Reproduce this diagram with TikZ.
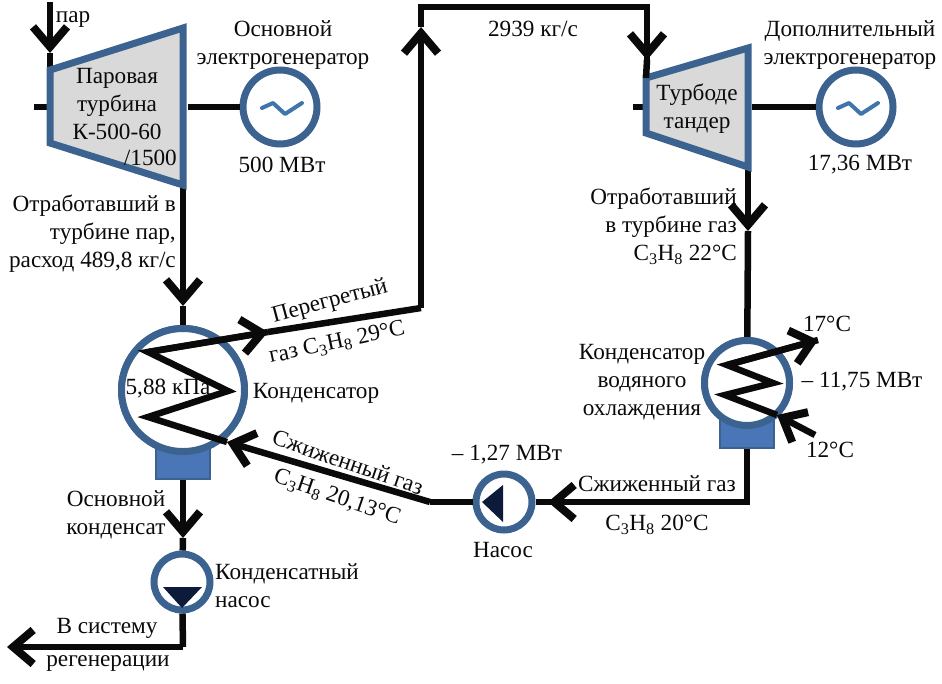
\documentclass[tikz,border=0pt]{standalone}
\usepackage{fontspec}
\setmainfont{Liberation Serif}
\usetikzlibrary{arrows.meta,calc}
\definecolor{PlantBlue}{HTML}{3C6390}
\definecolor{SumpBlue}{HTML}{4A76B8}
\definecolor{WaveBlue}{HTML}{3F75A8}
\definecolor{BodyGrey}{HTML}{D9D9D9}
\definecolor{PlantInk}{HTML}{0A0A0A}
\definecolor{PumpNavy}{HTML}{0D1B3A}
\newcommand{\propane}{C\textsubscript{3}H\textsubscript{8}}
\tikzset{
  pipe/.style={draw=PlantInk,line width=6.5pt,line join=miter},
  flow/.style={pipe,-{Straight Barb[length=20pt,width=34pt,line width=8pt]}},
  turb/.style={draw=PlantBlue,fill=BodyGrey,line width=7pt,line join=miter},
  gen/.style={circle,draw=PlantBlue,fill=white,line width=7pt,inner sep=0pt,minimum size=74pt},
  pump/.style={circle,draw=PlantBlue,fill=white,line width=7pt,inner sep=0pt,minimum size=56pt},
  sump/.style={draw=PlantBlue,fill=SumpBlue,line width=2pt,inner sep=0pt},
  genwave/.style={draw=WaveBlue,line width=4pt,line join=round,line cap=round},
  lbl/.style={text=PlantInk,inner sep=0pt,align=center,font=\fontsize{23.2}{28}\selectfont}
}
\begin{document}
\begin{tikzpicture}[x=1pt,y=-1pt]
  \useasboundingbox (0,0) rectangle (942,683);

  \coordinate (steamin) at (50,2);
  \coordinate (steamhead) at (50,53);
  \coordinate (turbAnw) at (50,70);
  \coordinate (turbAne) at (183,28);
  \coordinate (turbAse) at (183,185);
  \coordinate (turbAsw) at (50,143);
  \coordinate (shaftA) at (34,107);
  \coordinate (shaftAw) at (48,107);
  \coordinate (shaftAe) at (188,107);
  \coordinate (exhaustA) at (183,306);
  \coordinate (turbBnw) at (646,78);
  \coordinate (turbBne) at (748,48);
  \coordinate (turbBse) at (748,167);
  \coordinate (turbBsw) at (646,133);
  \coordinate (shaftB) at (633,107);
  \coordinate (shaftBw) at (645,107);
  \coordinate (shaftBe) at (752,107);
  \coordinate (exhaustB) at (748,231);

  \node[gen] (genA) at (280,107) {};
  \node[gen] (genB) at (856,107) {};
  \node[gen,minimum size=123pt] (condA) at (183,390) {};
  \node[gen,minimum size=85pt] (condB) at (747,383) {};
  \node[pump] (pumpA) at (182,582) {};
  \node[pump] (pumpB) at (504,502) {};

  \draw[flow] (steamin) -- (steamhead);
  \draw[pipe] (steamhead) -- (turbAnw);
  \draw[pipe] (shaftA) -- (shaftAw);
  \draw[pipe] (shaftAe) -- (genA);
  \draw[flow] (turbAse) -- (exhaustA);
  \draw[pipe] (exhaustA) -- (condA);
  \draw[pipe] (shaftB) -- (shaftBw);
  \draw[pipe] (shaftBe) -- (genB);
  \draw[flow] (turbBse) -- (exhaustB);
  \draw[pipe] (exhaustB) -- (condB);

  \node[sump,minimum width=54pt,minimum height=36pt] (sumpA) at (183,461) {};
  \node[sump,minimum width=54pt,minimum height=32pt] (sumpB) at (747,432) {};
  \node[gen,minimum size=123pt] at (condA) {};
  \node[gen,minimum size=85pt] at (condB) {};

  \filldraw[turb] (turbAnw) -- (turbAne) -- (turbAse) -- (turbAsw) -- cycle;
  \filldraw[turb] (turbBnw) -- (turbBne) -- (turbBse) -- (turbBsw) -- cycle;

  \foreach \g in {genA,genB}
    \draw[genwave] ($(\g)+(-18,1)$) -- ++(11,-5) -- ++(12,11) -- ++(17,-11);

  \coordinate (bendliq) at (430,502);
  \coordinate (headliq) at (227,442);
  \coordinate (coilA1) at (148,417);
  \coordinate (coilA2) at (228,391);
  \coordinate (coilA3) at (148,352);
  \coordinate (headgas) at (268,332);
  \coordinate (bendgas) at (421,308);
  \coordinate (headup) at (421,27);
  \coordinate (topleft) at (421,7);
  \coordinate (topright) at (647,7);
  \coordinate (headdown) at (647,60);
  \coordinate (sumpdrop) at (183,538);
  \coordinate (cornerA) at (183,647);
  \coordinate (outlet) at (7,647);
  \coordinate (cornerB) at (747,502);
  \coordinate (headB) at (548,502);
  \coordinate (coolin) at (815,435);
  \coordinate (coolhead) at (777,415);
  \coordinate (coilB1) at (725,395);
  \coordinate (coilB2) at (773,383);
  \coordinate (coilB3) at (727,365);
  \coordinate (coolout) at (818,340);

  \draw[flow] (bendliq) -- (headliq);
  \draw[pipe] (headliq) -- (coilA1) -- (coilA2) -- (coilA3) -- (headgas);
  \draw[flow] (coilA3) -- (headgas);
  \draw[pipe] (headgas) -- (bendgas);
  \draw[flow] (bendgas) -- (headup);
  \draw[pipe] (headup) -- (topleft) -- (topright) -- (headdown);
  \draw[flow] (topright) -- (headdown);
  \draw[pipe] (headdown) -- (turbBnw);
  \draw[flow] (sumpA) -- (sumpdrop);
  \draw[pipe] (sumpdrop) -- (pumpA);
  \draw[pipe] (pumpA) -- (cornerA);
  \draw[flow] (cornerA) -- (outlet);
  \draw[pipe] (sumpB) -- (cornerB) -- (headB);
  \draw[flow] (cornerB) -- (headB);
  \draw[pipe] (headB) -- (pumpB);
  \draw[pipe] (pumpB) -- (bendliq);
  \draw[flow] (coolin) -- (coolhead);
  \draw[pipe] (coolhead) -- (coilB1) -- (coilB2) -- (coilB3) -- (coolout);
  \draw[flow] (coilB3) -- (coolout);

  \fill[PumpNavy] (163,587) -- (202,587) -- (182,608) -- cycle;
  \fill[PumpNavy] (482,502) -- (503,485) -- (503,522) -- cycle;

  \node[lbl] (tsteam) at (73,20) {пар};
  \node[lbl] (tgenA) at (283,45) {Основной\\электрогенератор};
  \node[lbl] (tturbA) at (117,104) {Паровая\\турбина\\К-500-60};
  \node[lbl,anchor=east] (tturbAb) at (177,158) {/1500};
  \node[lbl] (tpowA) at (282,165) {500 МВт};
  \node[lbl,anchor=east,align=right] (texhA) at (176,234) {Отработавший в\\турбине пар,\\расход 489,8 кг/с};
  \node[lbl] (tflow) at (533,29) {2939 кг/с};
  \node[lbl] (tgenB) at (850,45) {Дополнительный\\электрогенератор};
  \node[lbl] (tturbB) at (697,109) {Турбоде\\тандер};
  \node[lbl] (tpowB) at (860,165) {17,36 МВт};
  \node[lbl,anchor=east,align=right] (texhB) at (737,226) {Отработавший\\в турбине газ\\\propane{} 22°C};
  \node[lbl,rotate=15] (tsup) at (330,302) {Перегретый};
  \node[lbl,rotate=12] (tsupb) at (337,343) {газ \propane{} 29°C};
  \node[lbl] (tpress) at (168,389) {5,88 кПа};
  \node[lbl] (tcondA) at (316,393) {Конденсатор};
  \node[lbl,rotate=-19] (tliq) at (348,462) {Сжиженный газ};
  \node[lbl,rotate=-19] (tliqb) at (337,498) {\propane{} 20,13°C};
  \node[lbl] (tcond) at (116,515) {Основной\\конденсат};
  \node[lbl,anchor=west,align=left] (tpumpA) at (215,586) {Конденсатный\\насос};
  \node[lbl] (tregen) at (107,628) {В систему};
  \node[lbl] (tregenb) at (108,663) {регенерации};
  \node[lbl] (tcondB) at (642,382) {Конденсатор\\водяного\\охлаждения};
  \node[lbl] (thot) at (827,324) {17°C};
  \node[lbl] (tcool) at (862,382) {– 11,75 МВт};
  \node[lbl] (tcold) at (830,450) {12°C};
  \node[lbl] (tpowC) at (507,455) {– 1,27 МВт};
  \node[lbl] (tpumpB) at (503,550) {Насос};
  \node[lbl] (tliqC) at (657,484) {Сжиженный газ};
  \node[lbl] (tliqD) at (657,525) {\propane{} 20°C};
\end{tikzpicture}
\end{document}
